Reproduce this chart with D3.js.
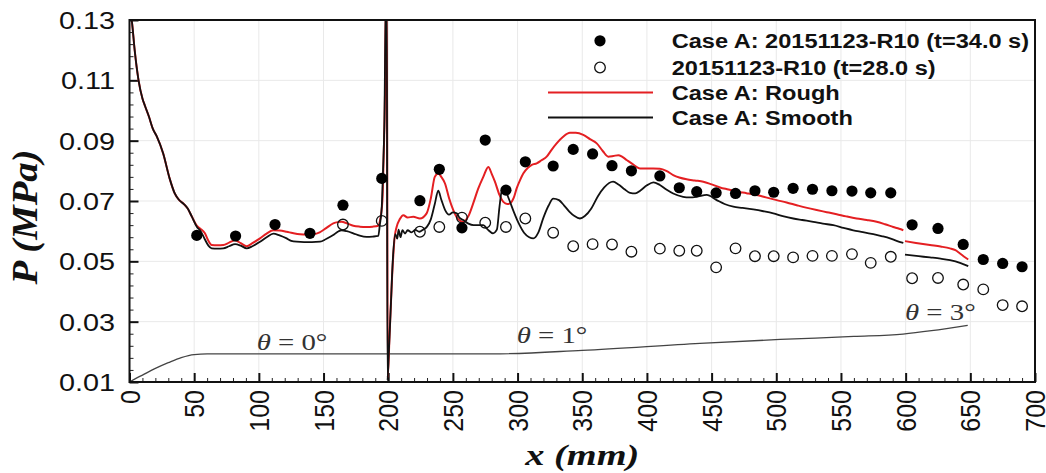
<!DOCTYPE html>
<html>
<head>
<meta charset="utf-8">
<script src="https://cdn.jsdelivr.net/npm/d3@7"></script>
<style>
  html, body { margin: 0; padding: 0; background: #fff; }
  svg { display: block; }
</style>
</head>
<body>
<svg id="chart" width="1046" height="473"></svg>
<script>
// ---------------- DATA ----------------
const xTicks = [0, 50, 100, 150, 200, 250, 300, 350, 400, 450, 500, 550, 600, 650, 700];
const yTicks = [0.01, 0.03, 0.05, 0.07, 0.09, 0.11, 0.13];

// Experimental: Case A 20151123-R10 (t = 34.0 s), filled circles
const x34 = [52, 82, 112.5, 139.5, 165, 195, 224.5, 239.5, 257, 275, 291, 306, 327.5, 343, 358, 373, 388, 410, 425, 438.5,
             453.5, 468.5, 483.5, 498, 513, 528, 543, 558.5, 573, 588.5, 605, 625, 644.5, 660, 675, 690];
const p34 = [0.0586, 0.0584, 0.0622, 0.0593, 0.0686, 0.0775, 0.0701, 0.0805, 0.0611, 0.0902, 0.0736, 0.0830, 0.0816, 0.0871,
             0.0856, 0.0817, 0.0800, 0.0783, 0.0744, 0.0731, 0.0727, 0.0725, 0.0734, 0.0729, 0.0742, 0.0739, 0.0734, 0.0733,
             0.0727, 0.0727, 0.0621, 0.0609, 0.0556, 0.0506, 0.0493, 0.0482];

// Experimental: 20151123-R10 (t = 28.0 s), open circles
const x28 = [165, 195, 224.5, 239.5, 257, 275, 291, 306, 327.5, 343, 358, 373, 388, 410, 425, 438.5,
             453.5, 468.5, 483.5, 498, 513, 528, 543, 558.5, 573, 588.5, 605, 625, 644.5, 660, 675, 690];
const p28 = [0.0622, 0.0634, 0.0598, 0.0614, 0.0645, 0.0628, 0.0614, 0.0642, 0.0595, 0.0550, 0.0557, 0.0556, 0.0532, 0.0542,
             0.0535, 0.0535, 0.0480, 0.0543, 0.0517, 0.0517, 0.0513, 0.0518, 0.0518, 0.0524, 0.0495, 0.0515, 0.0444, 0.0445,
             0.0423, 0.0407, 0.0355, 0.0351];

// Simulation: Case A Rough (red); null marks a break in the curve
const xRough = [0, 2, 4, 7, 10, 12, 15, 18, 21, 26, 31, 35, 38, 42, 45, 48, 52, 54.5, 58.3, 61, 63.5, 68, 72.5, 77, 81.6, 86, 90.6, 95,
  100.9, 106, 111.2, 116, 121.5, 126, 131.8, 137, 142, 147, 152, 157.5, 161, 164, 168, 173, 178, 183.3, 188, 192.3, 193.6, 195.5,
  196.5, 197.5, 198.3, 198.9, 199.6, 201, 203, 205, 206.5, 209, 211.7, 215, 219.4, 224.5, 229.7, 233, 236, 238.7, 241, 243.9,
  247, 250.3, 254, 258, 262, 265.7, 269.5, 273.5, 277.4, 280, 282.5, 286, 289, 292, 294.1, 297, 299.3, 302, 304.4, 308, 311,
  314.8, 318.5, 322.5, 326, 330.2, 335, 340.5, 345, 350.8, 356, 361.2, 366, 370.1, 374, 377.9, 381, 384.3, 389, 394.6, 400,
  404.9, 410, 415, 420.3, 425, 430.7, 437, 443.6, 450, 456.5, 463, 469.4, 477, 484.8, 492, 500.3, 508, 515.8, 523, 531.2, 539,
  546.7, 554, 562.1, 570, 577.6, 584, 590.4, 595, 598.2, 599, 599.5, 608, 618.8, 627, 634.3, 638.5, 642, 645, 648.4];
const pRough = [0.135, 0.129, 0.120, 0.110, 0.104, 0.1015, 0.098, 0.094, 0.0915, 0.0858, 0.0775, 0.0725, 0.0705, 0.069, 0.0675,
  0.065, 0.0618, 0.0609, 0.0593, 0.0568, 0.0554, 0.0553, 0.0554, 0.0562, 0.0570, 0.0560, 0.0550, 0.0560,
  0.0576, 0.0592, 0.0603, 0.0602, 0.0598, 0.0594, 0.0590, 0.0589, 0.0590, 0.0596, 0.0610, 0.0626, 0.0630, 0.0631, 0.0626, 0.0618,
  0.0615, 0.0614, 0.0615, 0.0618, 0.0634, 0.070,
  0.085, 0.105, 0.140, 0.140, 0.0115, 0.025, 0.045, 0.058, 0.0614, 0.064, 0.0653, 0.0645, 0.0648, 0.0642, 0.0659, 0.071, 0.078, 0.0791, 0.078, 0.0758,
  0.071, 0.067, 0.064, 0.0631, 0.065, 0.0692, 0.074, 0.078, 0.0813, 0.079, 0.0764, 0.072, 0.0697, 0.069, 0.0692, 0.071, 0.0742, 0.077, 0.0791, 0.081, 0.082,
  0.0825, 0.0835, 0.0847, 0.0868, 0.0891, 0.0912, 0.0926, 0.0926, 0.0919, 0.0905, 0.0891, 0.0865, 0.0847, 0.0849, 0.0852, 0.0846, 0.0836, 0.0822, 0.0808, 0.0808,
  0.0808, 0.0807, 0.0800, 0.0786, 0.0778, 0.0772, 0.0768, 0.0764, 0.0755, 0.0745, 0.0738, 0.0731, 0.0726, 0.0720, 0.0712, 0.0703, 0.0695, 0.0686, 0.0678, 0.0670, 0.0663,
  0.0656, 0.0649, 0.0642, 0.0637, 0.0631, 0.0623, 0.0614, 0.0608, 0.0603, null, 0.0567, 0.0561, 0.0554, 0.0549, 0.0543, 0.0537, 0.0526, 0.0516, 0.0506];

// Simulation: Case A Smooth (black)
const xSmooth = [0, 2, 4, 7, 10, 12, 15, 18, 21, 26, 31, 35, 38, 42, 45, 48, 52, 55, 58, 61, 63.5, 68, 72.5, 77, 81.6, 86, 90.6, 95,
  100.9, 106, 111.2, 116, 121.5, 125, 129.2, 135, 141, 147.3, 152, 157.5, 161, 164, 168, 173, 178, 183.3, 188, 192.3, 193.5, 195,
  196, 197, 198.3, 198.9, 199.4, 200.5, 202, 203.5, 205.5, 207, 208, 209.5, 211, 213, 215, 218, 221, 224, 227, 230, 233, 236,
  238.7, 241, 244, 247, 250, 253, 255, 258, 262, 266, 270, 273.5, 277, 281, 284, 286, 288, 290, 293, 297, 301, 305, 309, 312.2,
  316, 320, 324, 327.6, 332, 336, 340, 344, 348.2, 352, 357, 362, 367, 373.8, 378, 383, 387, 391, 395, 400, 405, 410, 415,
  420.3, 428, 433, 438.5, 446.2, 453.9, 460, 466.8, 474, 482.2, 490, 497.7, 505, 513.1, 520, 528.6, 536, 544.1, 552, 559.5, 567,
  575, 582, 587.9, 593, 598.2, 599, 599.5, 610, 618.8, 627, 634.3, 642, 645, 648.4];
const pSmooth = [0.135, 0.129, 0.120, 0.110, 0.104, 0.1015, 0.098, 0.094, 0.0915, 0.0858, 0.0775, 0.0725, 0.0705, 0.069, 0.0675,
  0.065, 0.0615, 0.0600, 0.0575, 0.0552, 0.0543, 0.0542, 0.0543, 0.0550, 0.0557, 0.0552, 0.0543, 0.0550,
  0.0565, 0.0580, 0.0592, 0.0586, 0.0576, 0.0568, 0.0565, 0.0564, 0.0564, 0.0565, 0.0574, 0.0587, 0.0598, 0.0603, 0.0600, 0.0593,
  0.0585, 0.0581, 0.0582, 0.0584, 0.062, 0.068,
  0.080, 0.095, 0.140, 0.140, 0.0105, 0.020, 0.035, 0.050, 0.059, 0.0575, 0.0605, 0.058, 0.0603, 0.0592, 0.0603, 0.0596, 0.0604,
  0.0598, 0.0605, 0.0615, 0.064, 0.069, 0.0734, 0.0705, 0.067, 0.0655, 0.0662, 0.0659, 0.0645, 0.0637, 0.0625, 0.062, 0.062,
  0.062, 0.0605, 0.0593, 0.0605, 0.068, 0.0736, 0.0738, 0.071, 0.0665, 0.0625, 0.0595, 0.058, 0.0576, 0.0595, 0.0645, 0.0685,
  0.0708, 0.0703, 0.0685, 0.0665, 0.065, 0.0642, 0.065, 0.0675, 0.0715, 0.0745, 0.0764, 0.0755, 0.0738, 0.0727, 0.0725, 0.0735,
  0.0752, 0.0762, 0.0753, 0.0738, 0.0725, 0.0714, 0.0712, 0.0714, 0.0720, 0.0703, 0.0690, 0.0681, 0.0677, 0.0672, 0.0666,
  0.0659, 0.0650, 0.0642, 0.0637, 0.0631, 0.0625, 0.0620, 0.0611, 0.0603, 0.0597, 0.0590, 0.0583, 0.0576, 0.0568, 0.0561, null,
  0.0522, 0.0517, 0.0513, 0.0509, 0.0504, 0.0495, 0.0490, 0.0484];

// Geometry profile (nozzle wall) drawn in pressure coordinates, with angle labels
const xWall = [0, 5, 10, 20, 30, 40, 50, 60, 280, 350, 441, 503, 560, 598, 620, 648];
const pWall = [0.0100, 0.0112, 0.0123, 0.0145, 0.0164, 0.0181, 0.0191, 0.0193, 0.0193, 0.0205, 0.0228, 0.0241, 0.0251, 0.0259, 0.0270, 0.0288];
const wallLabels = ["0°", "1°", "3°"];
const wallLabelX = [98.3, 299.3, 599.5];
const wallLabelP = [0.0205, 0.0229, 0.0305];

const legendLabels = ["Case A: 20151123-R10 (t=34.0 s)", "20151123-R10 (t=28.0 s)", "Case A: Rough", "Case A: Smooth"];

// ---------------- CHART ----------------
const svg = d3.select("#chart");
const X0 = 129.5, X1 = 1035, Y0 = 382, Y1 = 20;
const x = d3.scaleLinear().domain([0, 700]).range([X0, X1]);
const y = d3.scaleLinear().domain([0.01, 0.13]).range([Y0, Y1]);
const STRETCH = 1.2;

svg.append("defs").append("clipPath").attr("id", "clip")
  .append("rect").attr("x", X0).attr("y", Y1).attr("width", X1 - X0).attr("height", Y0 - Y1);

// grid
const grid = svg.append("g");
grid.selectAll("line.gx").data(xTicks.slice(1, -1)).join("line")
  .attr("x1", d => x(d)).attr("x2", d => x(d)).attr("y1", Y1).attr("y2", Y0)
  .attr("stroke", "#e9e9e9").attr("stroke-width", 1);
grid.selectAll("line.gy").data(yTicks.slice(1, -1)).join("line")
  .attr("y1", d => y(d)).attr("y2", d => y(d)).attr("x1", X0).attr("x2", X1)
  .attr("stroke", "#e9e9e9").attr("stroke-width", 1);

// axes: minor ticks
const xMinor = d3.range(0, 701, 10).filter(v => v % 50 !== 0);
const yMinor = d3.range(0.01, 0.1301, 0.004).filter((v, i) => i % 5 !== 0);
svg.append("g").attr("transform", `translate(0,${Y0})`)
  .call(d3.axisBottom(x).tickValues(xMinor).tickSize(-4).tickFormat(""))
  .call(g => g.select(".domain").remove())
  .call(g => g.selectAll("line").attr("stroke", "#222").attr("stroke-width", 1));
svg.append("g").attr("transform", `translate(${X0},0)`)
  .call(d3.axisLeft(y).tickValues(yMinor).tickSize(-4).tickFormat(""))
  .call(g => g.select(".domain").remove())
  .call(g => g.selectAll("line").attr("stroke", "#222").attr("stroke-width", 1));

// major x axis
svg.append("g").attr("transform", `translate(0,${Y0})`)
  .call(d3.axisBottom(x).tickValues(xTicks).tickSize(-9).tickFormat(d3.format("d")))
  .call(g => g.select(".domain").remove())
  .call(g => g.selectAll("line").attr("stroke", "#111").attr("stroke-width", 2))
  .call(g => g.selectAll("text")
    .attr("x", 0).attr("y", 0).attr("dy", "0.35em")
    .attr("transform", `translate(0,8) scale(1.1,1) rotate(-90)`)
    .attr("text-anchor", "end")
    .attr("font-family", "Liberation Sans, Arial, sans-serif")
    .attr("font-size", 25).attr("fill", "#111"));

// major y axis
svg.append("g").attr("transform", `translate(${X0},0)`)
  .call(d3.axisLeft(y).tickValues(yTicks).tickSize(-9).tickFormat(d3.format(".2f")))
  .call(g => g.select(".domain").remove())
  .call(g => g.selectAll("line").attr("stroke", "#111").attr("stroke-width", 2))
  .call(g => g.selectAll("text")
    .attr("x", 0).attr("dy", "0.36em")
    .attr("transform", `translate(-14.5,0) scale(${STRETCH},1)`)
    .attr("text-anchor", "end")
    .attr("font-family", "Liberation Sans, Arial, sans-serif")
    .attr("font-size", 24).attr("fill", "#111"));

// plot content
const plot = svg.append("g").attr("clip-path", "url(#clip)");

const line = d3.line()
  .defined(d => d[1] !== null)
  .x(d => x(d[0])).y(d => y(d[1]))
  .curve(d3.curveMonotoneX);

plot.append("path").datum(d3.zip(xWall, pWall))
  .attr("d", line).attr("fill", "none").attr("stroke", "#444").attr("stroke-width", 1.3);

plot.append("path").datum(d3.zip(xRough, pRough))
  .attr("d", line).attr("fill", "none").attr("stroke", "#e41f22").attr("stroke-width", 2);
plot.append("path").datum(d3.zip(xSmooth, pSmooth))
  .attr("d", line).attr("fill", "none").attr("stroke", "#111").attr("stroke-width", 1.8);

plot.selectAll("circle.open").data(d3.zip(x28, p28)).join("circle")
  .attr("cx", d => x(d[0])).attr("cy", d => y(d[1])).attr("r", 5.3)
  .attr("fill", "none").attr("stroke", "#111").attr("stroke-width", 1.3);
plot.selectAll("circle.fill").data(d3.zip(x34, p34)).join("circle")
  .attr("cx", d => x(d[0])).attr("cy", d => y(d[1])).attr("r", 5.6)
  .attr("fill", "#000");

// angle labels
wallLabels.forEach((lab, i) => {
  const t = svg.append("text")
    .attr("transform", `translate(${x(wallLabelX[i])},${y(wallLabelP[i])}) scale(${STRETCH},1)`)
    .attr("font-family", "Liberation Serif, Times New Roman, serif")
    .attr("font-size", 24).attr("fill", "#333");
  t.append("tspan").attr("font-style", "italic").text("θ");
  t.append("tspan").text(" = " + lab);
});

// frame
svg.append("rect").attr("x", X0).attr("y", Y1).attr("width", X1 - X0).attr("height", Y0 - Y1)
  .attr("fill", "none").attr("stroke", "#111").attr("stroke-width", 2);

// axis titles
svg.append("text")
  .attr("x", (X0 + X1) / 2).attr("y", 465)
  .attr("text-anchor", "middle")
  .attr("font-family", "Liberation Serif, Times New Roman, serif")
  .attr("font-style", "italic").attr("font-weight", "bold")
  .attr("font-size", 29).attr("fill", "#111")
  .attr("textLength", 114).attr("lengthAdjust", "spacingAndGlyphs")
  .text("x (mm)");
svg.append("text")
  .attr("transform", `translate(37,217) scale(${STRETCH},1) rotate(-90)`)
  .attr("text-anchor", "middle")
  .attr("font-family", "Liberation Serif, Times New Roman, serif")
  .attr("font-style", "italic").attr("font-weight", "bold")
  .attr("font-size", 29).attr("fill", "#111")
  .attr("textLength", 135).attr("lengthAdjust", "spacingAndGlyphs")
  .text("P (MPa)");

// legend
const legBase = [48.3, 75, 100, 125];
const legX = 671.7, symX = 600;
const leg = svg.append("g");
leg.append("circle").attr("cx", symX).attr("cy", legBase[0] - 7.5).attr("r", 5.6).attr("fill", "#000");
leg.append("circle").attr("cx", symX).attr("cy", legBase[1] - 7.5).attr("r", 5.3)
  .attr("fill", "none").attr("stroke", "#111").attr("stroke-width", 1.3);
leg.append("line").attr("x1", 548).attr("x2", 653).attr("y1", legBase[2] - 7.5).attr("y2", legBase[2] - 7.5)
  .attr("stroke", "#e41f22").attr("stroke-width", 2);
leg.append("line").attr("x1", 548).attr("x2", 653).attr("y1", legBase[3] - 7.5).attr("y2", legBase[3] - 7.5)
  .attr("stroke", "#111").attr("stroke-width", 1.8);
legendLabels.forEach((lab, i) => {
  leg.append("text")
    .attr("transform", `translate(${legX},${legBase[i]}) scale(1.15,1)`)
    .attr("font-family", "Liberation Sans, Arial, sans-serif")
    .attr("font-weight", "bold").attr("font-size", 20.5).attr("fill", "#111")
    .text(lab);
});
</script>
</body>
</html>
